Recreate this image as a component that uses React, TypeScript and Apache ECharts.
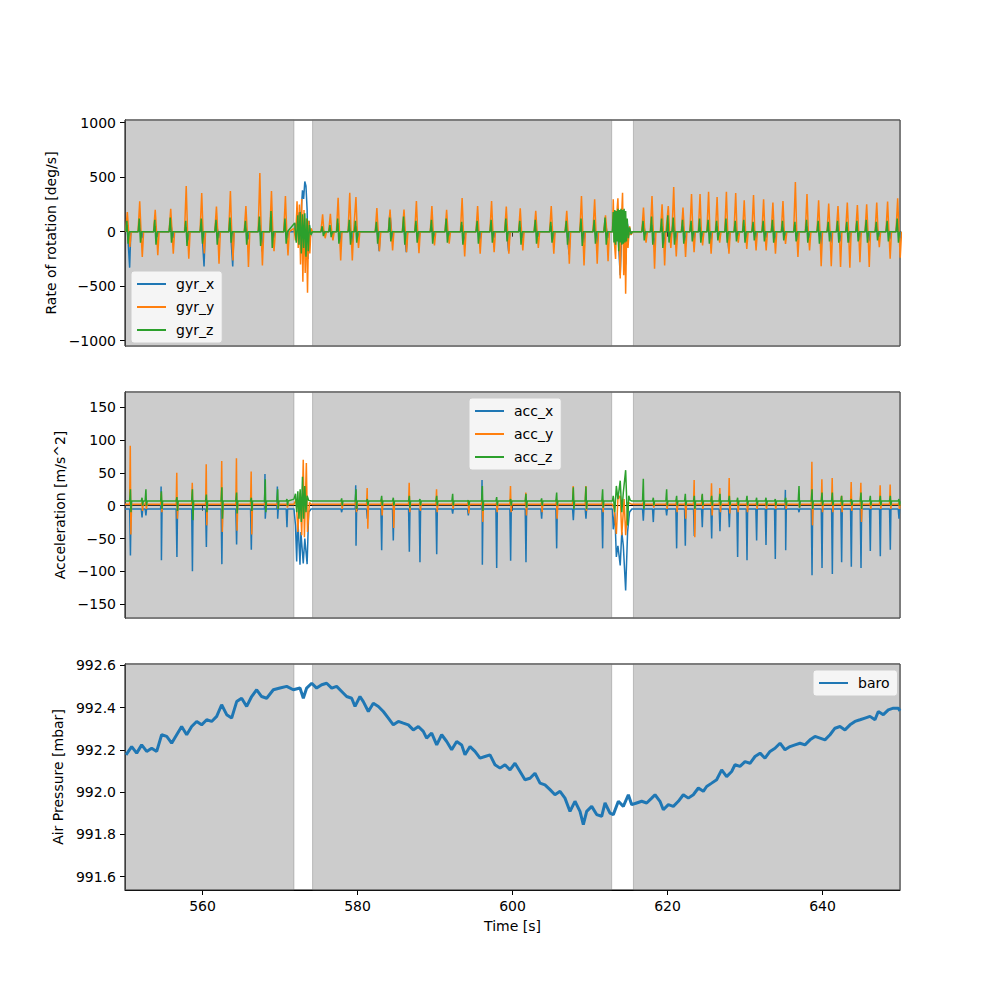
import React, { useEffect, useRef } from "react";
import * as echarts from "echarts";

// ---------- axes / ticks ----------
const X_MIN = 550;
const X_MAX = 650;
const xTicks = [560, 580, 600, 620, 640];
const gyrTicks = [-1000, -500, 0, 500, 1000];
const accTicks = [-150, -100, -50, 0, 50, 100, 150];
const baroTicks = [991.6, 991.8, 992.0, 992.2, 992.4, 992.6];
const gyrRange = [-1049, 1025];
const accRange = [-171, 173];
const baroRange = [991.537, 992.607];

// shaded (active) time spans
const activeSpans = [
  [550, 571.8],
  [574.2, 612.8],
  [615.6, 650],
];

// ---------- gyroscope: stride events ----------
const strideT = [
  550.3, 551.9, 553.9, 555.9, 557.9, 559.9, 561.8, 563.6, 565.6, 567.4, 568.9, 570.7,
  575.5, 576.5, 577.5, 579.0, 579.8, 582.5, 584.2, 586.0, 587.6, 589.6, 591.5, 593.5, 595.5, 597.3, 599.2,
  601.0, 603.0, 605.0, 607.0, 608.9, 610.6, 612.0,
  616.9, 618.0, 619.3, 620.1, 620.8, 622.0, 623.1, 624.2, 625.3, 626.4, 627.6, 628.8, 629.9, 631.1, 632.4,
  633.6, 634.9, 636.5, 638.0, 639.5, 640.8, 642.0, 643.2, 644.5, 645.7, 647.0, 648.4, 649.7,
];
const gyrYPeak = [
  180, 280, 200, 210, 418, 355, 230, 373, 236, 539, 373, 327,
  160, 165, 312, 358, 318, 218, 203, 203, 282, 236, 200, 309, 236, 282, 230, 215, 191, 236, 191, 327, 297, 150,
  221, 327, 252, 236, 409, 221, 345, 345, 367, 318, 367, 355, 288, 336, 297, 267, 282, 455, 345, 288, 258, 236,
  267, 245, 252, 267, 276, 306,
];
const gyrYTrough = [
  -140, -233, -215, -203, -248, -200, -294, -264, -324, -309, -180, -218,
  -60, -80, -264, -264, -150, -179, -173, -188, -197, -127, -110, -227, -203, -188, -203, -173, -150, -203, -294,
  -309, -294, -270,
  -100, -339, -309, -150, -227, -233, -188, -127, -203, -100, -203, -100, -158, -173, -173, -203, -112, -233,
  -173, -318, -318, -324, -330, -279, -324, -142, -248, -239,
];
const gyrXUp = [
  60, 40, 50, 90, 40, 60, 90, 50, 40, 60, 50, 40,
  30, 30, 80, 60, 50, 60, 170, 50, 60, 40, 40, 60, 50, 40, 60, 40, 40, 50, 60, 80, 60, 90,
  80, 60, 50, 40, 90, 50, 60, 40, 60, 50, 60, 40, 50, 60, 40, 50, 40, 60, 50, 40, 50, 60, 40, 50, 40, 50, 60, 100,
];
const gyrXDn = [
  -330, -60, -50, -60, -80, -320, -60, -320, -70, -180, -60, -60,
  -20, -30, -100, -120, -60, -179, -80, -188, -90, -60, -50, -120, -80, -60, -180, -60, -50, -80, -209, -100, -120, -60,
  -40, -140, -120, -60, -100, -90, -80, -50, -90, -50, -160, -60, -80, -70, -60, -90, -50, -80, -60, -130, -100, -90,
  -100, -80, -90, -50, -70, -60,
];
const gyrZHi = [
  100, 120, 110, 130, 100, 120, 110, 130, 100, 140, 190, 120,
  50, 60, 120, 110, 100, 90, 130, 140, 100, 110, 120, 90, 100, 110, 120, 100, 110, 90, 100, 120, 110, 130,
  100, 140, 120, 150, 130, 110, 100, 120, 110, 100, 120, 100, 110, 90, 100, 110, 100, 90, 110, 100, 90, 100, 90,
  100, 110, 90, 100, 120,
];
const gyrZLo = [
  -110, -100, -120, -100, -130, -110, -120, -100, -120, -130, -150, -110,
  -40, -50, -110, -120, -100, -110, -90, -120, -100, -110, -100, -120, -110, -100, -90, -120, -110, -100, -120,
  -130, -110, -120,
  -80, -120, -150, -100, -120, -110, -90, -100, -110, -80, -100, -90, -100, -80, -90, -100, -80, -90, -100, -110,
  -90, -100, -100, -90, -100, -80, -90, -100,
];

// gyroscope during the two unshaded (transition) periods
const gap1GyrX = [[571.8, 0], [572.2, 100], [572.5, 180], [572.7, 150], [572.9, 380], [573.05, 300], [573.2, 460], [573.35, 420], [573.5, 200], [573.6, -250], [573.75, 100], [573.9, -50], [574.1, 0]];
const gap1GyrY = [[571.8, 30], [572.0, -80], [572.2, 280], [572.35, -150], [572.5, 250], [572.65, -300], [572.8, 300], [572.95, -460], [573.1, 200], [573.25, -380], [573.4, 120], [573.55, -560], [573.7, 100], [573.85, -200], [574.0, 30], [574.2, 0]];
const gap1GyrZ = [[571.9, 80], [572.1, -100], [572.3, 150], [572.45, -120], [572.6, 180], [572.75, -200], [572.9, 160], [573.05, -150], [573.2, 170], [573.35, -230], [573.5, 120], [573.65, -180], [573.8, 60], [574.0, -30], [574.2, 0]];
const gap2GyrX = [[612.9, 0], [613.1, 150], [613.3, -50], [613.5, 120], [613.9, -400], [614.2, 200], [614.4, -100], [614.6, -300], [614.8, 80], [615.1, -30], [615.4, 0]];
const gap2GyrY = [[612.9, 0], [613.0, 297], [613.15, -100], [613.3, -250], [613.45, 150], [613.6, 306], [613.75, -50], [613.9, -430], [614.05, 100], [614.2, 358], [614.35, -400], [614.5, 0], [614.6, -570], [614.75, 100], [614.9, -150], [615.1, 50], [615.3, -30], [615.5, 0]];
const gap2GyrZ = [[612.9, 0], [613.0, 180], [613.1, -100], [613.2, 200], [613.3, -120], [613.4, 190], [613.5, -90], [613.6, 210], [613.7, -180], [613.8, 200], [613.9, -100], [614.0, 210], [614.1, -120], [614.2, 200], [614.3, -110], [614.4, 210], [614.5, -100], [614.6, 190], [614.7, -90], [614.8, 120], [614.95, -60], [615.1, 40], [615.3, -20], [615.5, 0]];

// ---------- accelerometer: impact events ----------
const accXBase = -5;
const accYBase = 2;
const accZBase = 7;
const accT = [
  550.7, 552.2, 552.7, 554.7, 556.7, 558.7, 560.5, 562.5, 564.4, 566.3, 568.1, 569.7, 570.9,
  577.96, 579.81, 581.27, 583.12, 584.62, 586.69, 588.06, 590.22, 592.28, 594.3, 596.11, 597.96, 599.76, 601.74,
  603.76, 605.7, 607.85, 609.48, 611.63,
  616.88, 618.17, 619.89, 621.18, 622.3, 623.46, 624.49, 625.7, 626.77, 627.98, 629.05, 630.26, 631.5, 632.71,
  633.91, 635.25, 636.97, 638.65, 639.94, 641.27, 642.47, 643.72, 644.97, 646.17, 647.46, 648.75, 649.87,
];
const accXDn = [
  -76, -18, -15, -83, -78, -100, -63, -89, -59, -67, -20, -20, -33,
  -10, -61, -20, -68, -53, -70, -86, -74, -12, -15, -90, -95, -84, -86, -20, -65, -22, -20, -65,
  -23, -25, -15, -65, -61, -46, -33, -50, -39, -33, -78, -83, -53, -60, -81, -68, -10, -106, -95, -104, -86, -93,
  -95, -69, -77, -67, -20,
];
const accXUp = [
  -5, -5, -5, 29, -5, -5, -5, -5, -5, -5, 48, 29, -5,
  -5, 31, -5, -5, -5, -5, -5, -5, -5, -5, 39, -5, -5, -5, -5, -5, -5, -5, -5,
  -5, -5, -5, -5, -5, -5, -5, -5, -5, -5, -5, -5, -5, -5, -5, 24, -5, -5, -5, -5, -5, -5, -5, -5, -5, -5, -5,
];
const accYHi = [
  91, 5, 6, 20, 50, 35, 63, 68, 72, 52, 5, 5, 3,
  5, 10, 27, 10, 5, 35, 5, 25, 5, 8, 10, 5, 30, 20, 5, 10, 30, 30, 10,
  5, 3, 5, 8, 5, 39, 16, 34, 27, 42, 8, 5, 5, 5, 5, 5, 3, 67, 40, 42, 15, 36, 35, 5, 31, 32, 5,
];
const accYLo = [
  -44, -8, -5, -10, -20, -12, -30, -40, -38, -44, -5, -5, -3,
  -5, -10, -35, -15, -34, -10, -8, -10, -5, -12, -25, -10, -10, -15, -10, -20, -5, -8, -10,
  -5, -3, -5, -10, -20, -48, -5, -15, -10, -12, -10, -10, -5, -5, -5, -5, -3, -30, -10, -10, -10, -8, -25, -5, -5, -5, -5,
];
const accZHi = [
  25, 12, 25, 22, 13, 25, 17, 28, 20, 12, 40, 25, 10,
  11, 25, 10, 15, 12, 15, 10, 15, 18, 8, 30, 13, 10, 18, 11, 20, 28, 29, 25,
  41, 12, 25, 15, 18, 15, 18, 15, 18, 15, 12, 15, 12, 12, 10, 12, 30, 25, 20, 20, 15, 10, 20, 15, 15, 15, 10,
];
const accZLo = [
  -10, 0, 0, -5, -8, -22, -10, -20, -12, -8, -10, -5, 0,
  0, -5, 0, 0, 0, -3, 0, 0, 0, 0, -8, 0, 0, -3, 0, 0, -5, -5, -3,
  -5, 0, 0, 0, 0, -5, 0, 0, 0, 0, 0, 0, 0, 0, 0, 0, -3, -5, 0, 0, 0, 0, -5, 0, 0, 0, 0,
];

const gap1AccX = [[571.8, -5], [572.0, -30], [572.15, -85], [572.3, -20], [572.58, -90], [572.7, -40], [573.0, -88], [573.2, -50], [573.5, -89], [573.7, -10], [574.0, -5]];
const gap1AccY = [[571.8, 2], [572.1, 10], [572.3, -40], [572.6, 20], [572.8, -45], [573.0, 70], [573.15, -48], [573.4, 65], [573.55, -40], [573.8, 5], [574.0, 2]];
const gap1AccZ = [[571.8, 10], [572.0, 18], [572.15, -10], [572.3, 22], [572.45, -20], [572.6, 25], [572.75, -25], [572.9, 44], [573.05, -20], [573.2, 30], [573.35, -10], [573.5, 15], [573.7, 8], [574.0, 7]];
const gap2AccX = [[612.9, -5], [613.0, -36], [613.2, -10], [613.4, -78], [613.6, -61], [613.9, -91], [614.1, -40], [614.3, -61], [614.6, -129], [614.85, -40], [615.1, -10], [615.4, -5]];
const gap2AccY = [[612.9, 2], [613.1, -5], [613.4, -43], [613.6, 10], [613.9, 15], [614.1, -45], [614.4, 10], [614.6, -45], [614.9, 5], [615.4, 2]];
const gap2AccZ = [[612.9, 7], [613.0, 15], [613.2, -10], [613.4, 30], [613.6, 10], [613.9, 38], [614.1, -10], [614.3, 20], [614.6, 54], [614.85, -30], [615.0, 15], [615.2, 8], [615.4, 7]];

// ---------- barometer ----------
const baroTime = [
  550.13, 550.86, 551.51, 552.15, 552.8, 553.44, 554.09, 554.73, 555.38, 556.02, 556.67, 557.31, 557.96, 558.6,
  559.25, 559.89, 560.54, 561.18, 561.83, 562.47, 563.12, 563.76, 564.41, 565.05, 565.7, 566.34, 566.99, 567.63,
  568.28, 569.14, 570.0, 570.86, 571.72, 572.58, 573.01, 573.44,
  574.09, 574.73, 575.38, 576.02, 576.67, 577.31, 577.96, 578.6, 579.25, 579.68, 580.32, 580.75, 581.4, 582.04,
  582.69, 583.33, 583.98, 584.62, 585.27, 585.91, 586.56, 587.2, 587.85, 588.49, 588.92, 589.57, 590.22, 590.86,
  591.51, 592.15, 592.8, 593.44, 593.87, 594.52, 595.16, 595.81, 596.45, 597.1, 597.74, 598.39, 599.03, 599.68,
  600.32, 600.97, 601.61, 602.26, 602.9, 603.55, 604.19, 604.84, 605.48, 606.13, 606.77, 607.42, 608.06, 608.71,
  609.14, 609.57, 610.22, 610.86, 611.51, 611.94, 612.58, 613.01, 613.66,
  614.3, 614.95, 615.38, 616.02, 616.67, 617.31, 617.96, 618.39, 619.03, 619.46, 620.11, 620.75, 621.4, 622.04,
  622.69, 623.33, 623.98, 624.62, 625.05, 625.7, 626.34, 626.99, 627.63, 628.28, 628.71, 629.35, 630.0, 630.65,
  631.29, 631.94, 632.58, 633.23, 633.87, 634.52, 635.16, 635.81, 636.45, 637.1, 637.74, 638.39, 639.03, 639.68,
  640.32, 640.97, 641.61, 642.26, 642.9, 643.55, 644.19, 644.84, 645.48, 646.13, 646.77, 647.2, 647.85, 648.49,
  649.14, 649.78, 650.0,
];
const baroValue = [
  992.177, 992.216, 992.185, 992.224, 992.193, 992.208, 992.193, 992.272, 992.264, 992.232, 992.272, 992.311,
  992.272, 992.311, 992.335, 992.319, 992.343, 992.335, 992.359, 992.414, 992.367, 992.351, 992.429, 992.445,
  992.406, 992.453, 992.485, 992.453, 992.445, 992.485, 992.493, 992.501, 992.485, 992.493, 992.445, 992.493,
  992.516, 992.493, 992.509, 992.516, 992.493, 992.501, 992.477, 992.453, 992.445, 992.406, 992.453, 992.429,
  992.382, 992.421, 992.406, 992.382, 992.351, 992.319, 992.335, 992.327, 992.319, 992.295, 992.311, 992.288,
  992.256, 992.28, 992.224, 992.272, 992.24, 992.201, 992.24, 992.224, 992.177, 992.216, 992.193, 992.161,
  992.169, 992.177, 992.13, 992.114, 992.13, 992.106, 992.137, 992.098, 992.059, 992.066, 992.09, 992.043,
  992.035, 992.012, 991.988, 992.004, 991.972, 991.909, 991.957, 991.909, 991.846, 991.909, 991.933, 991.894,
  991.886, 991.949, 991.901, 991.894, 991.957,
  991.933, 991.988, 991.941, 991.949, 991.957, 991.949, 991.972, 991.988, 991.957, 991.917, 991.941, 991.933,
  991.957, 991.988, 991.972, 991.988, 992.02, 992.004, 992.027, 992.043, 992.059, 992.106, 992.074, 992.098,
  992.13, 992.122, 992.145, 992.137, 992.169, 992.185, 992.161, 992.193, 992.208, 992.232, 992.201, 992.216,
  992.224, 992.232, 992.224, 992.248, 992.264, 992.256, 992.248, 992.272, 992.303, 992.311, 992.295, 992.319,
  992.335, 992.343, 992.351, 992.359, 992.343, 992.382, 992.367, 992.39, 992.398, 992.398, 992.385,
];

// ---------- build series point lists ----------
type P = number[];
const byTime = (pts: P[]) => pts.sort((a, b) => a[0] - b[0]);

const gyrXData = byTime([
  ...strideT.flatMap((t, i) => [[t - 0.2, 0], [t - 0.02, gyrXUp[i]], [t + 0.3, gyrXDn[i]], [t + 0.45, 0]]),
  ...gap1GyrX,
  ...gap2GyrX,
]);
const gyrYData = byTime([
  ...strideT.flatMap((t, i) => [[t - 0.22, 0], [t, gyrYPeak[i]], [t + 0.17, 0], [t + 0.33, gyrYTrough[i]], [t + 0.5, 0]]),
  ...gap1GyrY,
  ...gap2GyrY,
]);
const gyrZData = byTime([
  ...strideT.flatMap((t, i) => [[t - 0.2, 0], [t - 0.06, gyrZHi[i]], [t + 0.1, gyrZLo[i]], [t + 0.25, 0]]),
  ...gap1GyrZ,
  ...gap2GyrZ,
]);
const accXData = byTime([
  [X_MIN, accXBase], [X_MAX, accXBase],
  ...accT.flatMap((t, i) => [[t - 0.1, accXBase], [t - 0.04, accXUp[i]], [t, accXDn[i]], [t + 0.08, accXBase]]),
  ...gap1AccX,
  ...gap2AccX,
]);
const accYData = byTime([
  [X_MIN, accYBase], [X_MAX, accYBase],
  ...accT.flatMap((t, i) => [[t - 0.1, accYBase], [t - 0.02, accYHi[i]], [t + 0.06, accYLo[i]], [t + 0.15, accYBase]]),
  ...gap1AccY,
  ...gap2AccY,
]);
const accZData = byTime([
  [X_MIN, accZBase], [X_MAX, accZBase],
  ...accT.flatMap((t, i) => [[t - 0.1, accZBase], [t, accZHi[i]], [t + 0.07, accZLo[i]], [t + 0.16, accZBase]]),
  ...gap1AccZ,
  ...gap2AccZ,
]);
const baroData = baroTime.map((t, i) => [t, baroValue[i]]);

const C_BLUE = "#1f77b4";
const C_ORANGE = "#ff7f0e";
const C_GREEN = "#2ca02c";
const FONT = "DejaVu Sans";

export default function App() {
  const ref = useRef<HTMLDivElement>(null);

  useEffect(() => {
    if (!ref.current) return;
    const chart = echarts.init(ref.current, null, { renderer: "svg" });

    const gridTops = [120, 392, 664];
    const grid = gridTops.map((top) => ({
      left: 125,
      width: 775,
      top,
      height: 226,
      show: true,
      borderColor: "#000",
      borderWidth: 1,
      backgroundColor: "transparent",
    }));

    const xAxis = [0, 1, 2].map((i) => ({
      type: "value",
      gridIndex: i,
      min: X_MIN,
      max: X_MAX,
      name: i === 2 ? "Time [s]" : "",
      nameLocation: "middle",
      nameGap: 29,
      nameTextStyle: { fontFamily: FONT, fontSize: 14, color: "#000" },
      axisLine: { show: true, lineStyle: { color: "#000", width: 1 } },
      axisTick: { show: true, length: 5, customValues: xTicks, lineStyle: { color: "#000" } },
      axisLabel: {
        show: i === 2,
        customValues: xTicks,
        margin: 9,
        fontFamily: FONT,
        fontSize: 14,
        color: "#000",
      },
      splitLine: { show: false },
    }));

    const mkY = (i: number, range: number[], ticks: number[], name: string, gap: number, fmt?: (v: number) => string) => ({
      type: "value",
      gridIndex: i,
      min: range[0],
      max: range[1],
      name,
      nameLocation: "middle",
      nameGap: gap,
      nameTextStyle: { fontFamily: FONT, fontSize: 14, color: "#000" },
      axisLine: { show: true, lineStyle: { color: "#000", width: 1 } },
      axisTick: { show: true, length: 5, customValues: ticks, lineStyle: { color: "#000" } },
      axisLabel: {
        customValues: ticks,
        margin: 9,
        fontFamily: FONT,
        fontSize: 14,
        color: "#000",
        formatter: fmt ? fmt : (v: number) => (v < 0 ? "\u2212" + Math.abs(v) : String(v)),
      },
      splitLine: { show: false },
    });

    const yAxis = [
      mkY(0, gyrRange, gyrTicks, "Rate of rotation [deg/s]", 59),
      mkY(1, accRange, accTicks, "Acceleration [m/s^2]", 52),
      mkY(2, baroRange, baroTicks, "Air Pressure [mbar]", 53, (v: number) => v.toFixed(1)),
    ];

    const spanSeries = (i: number) => ({
      type: "line",
      name: "span" + i,
      xAxisIndex: i,
      yAxisIndex: i,
      data: [[X_MIN, null]],
      symbol: "none",
      silent: true,
      z: 1,
      lineStyle: { opacity: 0 },
      markArea: {
        silent: true,
        itemStyle: { color: "rgba(128,128,128,0.4)", borderColor: "rgba(110,110,110,0.35)", borderWidth: 1 },
        data: activeSpans.map(([a, b]) => [{ xAxis: a }, { xAxis: b }]),
      },
    });

    const line = (name: string, i: number, data: P[], color: string, z: number, width = 1.5) => ({
      type: "line",
      name,
      xAxisIndex: i,
      yAxisIndex: i,
      data,
      symbol: "none",
      showSymbol: false,
      color,
      z,
      lineStyle: { color, width },
      emphasis: { disabled: true },
    });

    const legendBase = {
      orient: "vertical",
      icon: "rect",
      itemWidth: 29,
      itemHeight: 2,
      itemGap: 9,
      selectedMode: false,
      backgroundColor: "rgba(255,255,255,0.8)",
      borderColor: "#cccccc",
      borderWidth: 1,
      borderRadius: 3,
      padding: [6, 8, 6, 6],
      textStyle: { fontFamily: FONT, fontSize: 14, color: "#000", padding: [0, 0, 0, 5] },
    };

    chart.setOption({
      animation: false,
      backgroundColor: "#fff",
      grid,
      xAxis,
      yAxis,
      legend: [
        { ...legendBase, data: ["gyr_x", "gyr_y", "gyr_z"], left: 131, top: 271 },
        { ...legendBase, data: ["acc_x", "acc_y", "acc_z"], left: 469, top: 398 },
        { ...legendBase, data: ["baro"], left: 813, top: 670 },
      ],
      series: [
        spanSeries(0),
        spanSeries(1),
        spanSeries(2),
        line("gyr_x", 0, gyrXData, C_BLUE, 2),
        line("gyr_y", 0, gyrYData, C_ORANGE, 3),
        line("gyr_z", 0, gyrZData, C_GREEN, 4),
        line("acc_x", 1, accXData, C_BLUE, 2),
        line("acc_y", 1, accYData, C_ORANGE, 3),
        line("acc_z", 1, accZData, C_GREEN, 4),
        line("baro", 2, baroData, C_BLUE, 2, 3),
      ],
    });

    return () => chart.dispose();
  }, []);

  return (
    <div
      ref={ref}
      style={{ position: "absolute", left: 0, top: 0, width: 1000, height: 1000, background: "#fff" }}
    />
  );
}
